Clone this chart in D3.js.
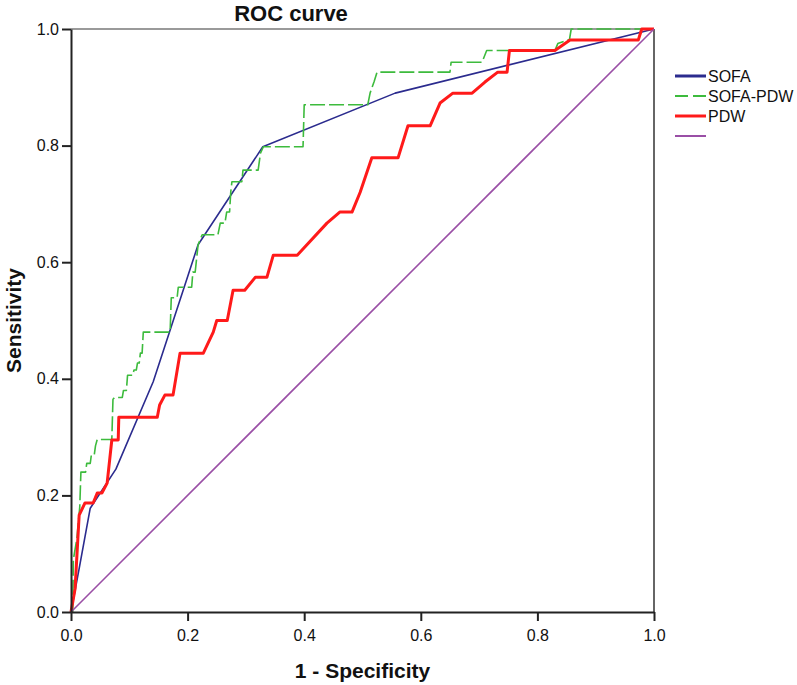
<!DOCTYPE html>
<html>
<head>
<meta charset="utf-8">
<script src="https://cdn.jsdelivr.net/npm/d3@7"></script>
<style>
  body { margin: 0; background: #fff; }
  svg text { font-family: "Liberation Sans", Arial, sans-serif; fill: #111; }
</style>
</head>
<body>
<svg id="chart" width="797" height="685"></svg>
<script>
// ROC points: [1 - specificity, sensitivity]
const sofa = [
  [0, 0], [0.015, 0.08], [0.033, 0.178], [0.077, 0.245], [0.141, 0.395],
  [0.218, 0.63], [0.329, 0.798], [0.556, 0.89], [1, 1]
];

const sofaPdw = [
  [0, 0], [0.003, 0.0], [0.004, 0.09], [0.01, 0.125], [0.015, 0.18], [0.017, 0.24],
  [0.025, 0.24], [0.027, 0.255], [0.033, 0.255], [0.035, 0.27], [0.04, 0.27],
  [0.042, 0.285], [0.045, 0.296], [0.07, 0.296], [0.072, 0.365], [0.075, 0.368],
  [0.088, 0.368], [0.09, 0.38], [0.095, 0.38], [0.097, 0.406], [0.106, 0.406],
  [0.108, 0.415], [0.112, 0.415], [0.114, 0.427], [0.117, 0.427], [0.119, 0.444],
  [0.122, 0.444], [0.124, 0.48], [0.17, 0.48], [0.172, 0.539], [0.182, 0.539],
  [0.184, 0.557], [0.207, 0.557], [0.209, 0.583], [0.213, 0.583], [0.218, 0.63],
  [0.225, 0.647], [0.252, 0.647], [0.256, 0.667], [0.264, 0.667], [0.267, 0.686],
  [0.272, 0.686], [0.274, 0.72], [0.276, 0.738], [0.293, 0.738], [0.295, 0.758],
  [0.321, 0.758], [0.325, 0.787], [0.33, 0.798], [0.398, 0.798], [0.40, 0.87],
  [0.509, 0.87], [0.513, 0.89], [0.52, 0.91], [0.525, 0.926], [0.65, 0.926],
  [0.652, 0.943], [0.705, 0.943], [0.713, 0.963], [0.83, 0.963], [0.835, 0.975],
  [0.855, 0.982], [0.858, 1.0], [1, 1]
];

const pdw = [
  [0, 0], [0.007, 0.04], [0.014, 0.166], [0.024, 0.187], [0.038, 0.187],
  [0.045, 0.204], [0.053, 0.204], [0.062, 0.221], [0.070, 0.295], [0.081, 0.295],
  [0.082, 0.334], [0.148, 0.334], [0.152, 0.355], [0.161, 0.372], [0.175, 0.372],
  [0.187, 0.444], [0.227, 0.444], [0.244, 0.48], [0.25, 0.50], [0.268, 0.50],
  [0.278, 0.552], [0.298, 0.552], [0.316, 0.574], [0.336, 0.574], [0.347, 0.612],
  [0.388, 0.612], [0.439, 0.667], [0.461, 0.686], [0.482, 0.686], [0.496, 0.72],
  [0.516, 0.779], [0.561, 0.779], [0.578, 0.834], [0.616, 0.834], [0.633, 0.873],
  [0.655, 0.89], [0.688, 0.89], [0.710, 0.909], [0.732, 0.926], [0.748, 0.926],
  [0.752, 0.963], [0.83, 0.963], [0.856, 0.981], [0.973, 0.981], [0.979, 1.0], [1, 1]
];

const reference = [[0, 0], [1, 1]];

const ticks = [0, 0.2, 0.4, 0.6, 0.8, 1.0];

const series = [
  { name: "SOFA", data: sofa, color: "#2b2b8e", width: 1.6, dash: null, legendWidth: 3 },
  { name: "SOFA-PDW", data: sofaPdw, color: "#3dbb3d", width: 1.6, dash: "15,4", legendWidth: 2 },
  { name: "PDW", data: pdw, color: "#ff1a1a", width: 3, dash: null, legendWidth: 3 },
  { name: "", data: reference, color: "#9a4fa6", width: 1.6, dash: null, legendWidth: 2 }
];

const svg = d3.select("#chart");
const plotLeft = 71, plotRight = 654, plotTop = 29, plotBottom = 612;

const x = d3.scaleLinear().domain([0, 1]).range([plotLeft, plotRight]);
const y = d3.scaleLinear().domain([0, 1]).range([plotBottom, plotTop]);

// frame: grey top, dark right
svg.append("line")
  .attr("x1", x(0)).attr("x2", x(1)).attr("y1", y(1)).attr("y2", y(1))
  .attr("stroke", "#9a9a9a").attr("stroke-width", 2);
svg.append("line")
  .attr("x1", x(1)).attr("x2", x(1)).attr("y1", y(1)).attr("y2", y(0))
  .attr("stroke", "#333").attr("stroke-width", 1.5);

const line = d3.line().x(d => x(d[0])).y(d => y(d[1]));

series.forEach(s => {
  svg.append("path")
    .datum(s.data)
    .attr("d", line)
    .attr("fill", "none")
    .attr("stroke", s.color)
    .attr("stroke-width", s.width)
    .attr("stroke-linejoin", "round")
    .attr("stroke-dasharray", s.dash);
});

// axes
const xAxis = svg.append("g")
  .attr("transform", `translate(0,${plotBottom})`)
  .call(d3.axisBottom(x).tickValues(ticks).tickFormat(d3.format(".1f")).tickSize(9).tickSizeOuter(0));
const yAxis = svg.append("g")
  .attr("transform", `translate(${plotLeft},0)`)
  .call(d3.axisLeft(y).tickValues(ticks).tickFormat(d3.format(".1f")).tickSize(9).tickSizeOuter(0));

[xAxis, yAxis].forEach(g => {
  g.select(".domain").attr("stroke", "#222").attr("stroke-width", 2);
  g.selectAll(".tick line").attr("stroke", "#222").attr("stroke-width", 2);
  g.selectAll(".tick text").attr("font-size", 16).attr("fill", "#222")
    .attr("font-family", "'Liberation Sans', Arial, sans-serif");
});
xAxis.selectAll(".tick text").attr("dy", "1.05em");
yAxis.selectAll(".tick text").attr("x", -12);

// titles
svg.append("text")
  .attr("x", 291).attr("y", 21)
  .attr("text-anchor", "middle")
  .attr("font-size", 22).attr("font-weight", "bold")
  .text("ROC curve");

svg.append("text")
  .attr("x", (plotLeft + plotRight) / 2).attr("y", 678)
  .attr("text-anchor", "middle")
  .attr("font-size", 21).attr("font-weight", "bold")
  .text("1 - Specificity");

svg.append("text")
  .attr("transform", `translate(21,${(plotTop + plotBottom) / 2}) rotate(-90)`)
  .attr("text-anchor", "middle")
  .attr("font-size", 21).attr("font-weight", "bold")
  .text("Sensitivity");

// legend
const legend = svg.append("g").attr("transform", "translate(675,76)");
series.forEach((s, i) => {
  const row = legend.append("g").attr("transform", `translate(0,${i * 20})`);
  row.append("line")
    .attr("x1", 0).attr("x2", 31).attr("y1", 0).attr("y2", 0)
    .attr("stroke", s.color).attr("stroke-width", s.legendWidth)
    .attr("stroke-dasharray", s.dash ? "13,5" : null);
  row.append("text")
    .attr("x", 33).attr("y", 0).attr("dy", "0.36em")
    .attr("font-size", 16).attr("fill", "#222")
    .text(s.name);
});
</script>
</body>
</html>
